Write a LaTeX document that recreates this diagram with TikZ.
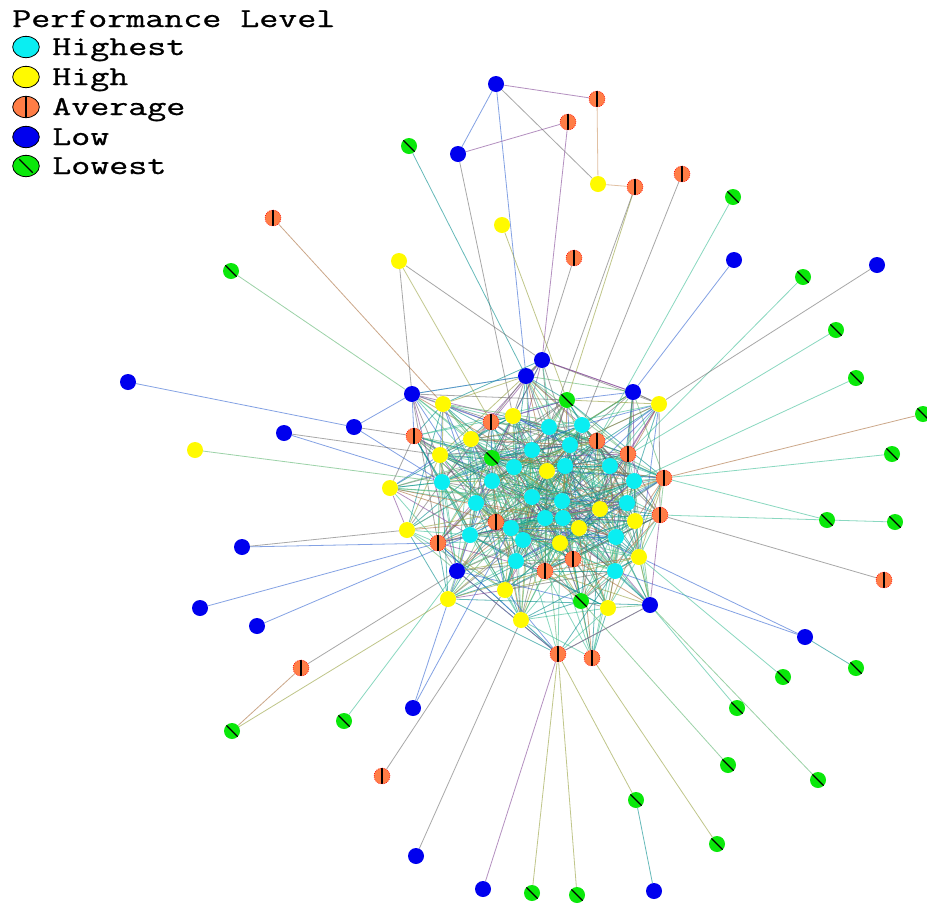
\documentclass[tikz,border=0pt]{standalone}
\usepackage{fontspec}
\newfontfamily\legfont[FakeBold=0.8]{Latin Modern Mono}
\usetikzlibrary{backgrounds,shapes.geometric}
\definecolor{ncyan}{RGB}{10,238,242}
\definecolor{nyellow}{RGB}{255,250,0}
\definecolor{norange}{RGB}{255,125,70}
\definecolor{nblue}{RGB}{0,0,238}
\definecolor{ngreen}{RGB}{10,232,10}
\definecolor{ecTeal}{RGB}{0,140,140}
\definecolor{ecGreen}{RGB}{90,180,110}
\definecolor{ecBlue}{RGB}{50,100,210}
\definecolor{ecGrey}{RGB}{110,110,110}
\definecolor{ecBrown}{RGB}{170,110,60}
\definecolor{ecPurple}{RGB}{130,70,150}
\definecolor{ecOlive}{RGB}{150,160,60}
\definecolor{ecMint}{RGB}{60,190,150}
\definecolor{ecTan}{RGB}{205,150,100}
\pgfmathdeclarerandomlist{ecols}{{ecTeal}{ecGreen}{ecBlue}{ecGrey}{ecBrown}{ecPurple}{ecOlive}{ecMint}{ecTeal}{ecMint}{ecGreen}{ecGrey}{ecTeal}{ecMint}}
\newcommand{\legtxt}[1]{\scalebox{1.35}[1]{\fontsize{20.5}{24}\legfont #1}}
\tikzset{
  nd/.style={circle, inner sep=0pt, minimum size=12pt},
  nhi/.style={nd, fill=ncyan},
  nhg/.style={nd, fill=nyellow},
  nlo/.style={nd, fill=nblue},
  nav/.style={nd, fill=norange, draw=red, densely dotted, line width=0.5pt,
    path picture={\draw[black, solid, line width=0.9pt] (path picture bounding box.north) -- (path picture bounding box.south);}},
  nlw/.style={nd, fill=ngreen,
    path picture={\draw[black, solid, line width=0.9pt] (path picture bounding box.north west) -- (path picture bounding box.south east);}},
  lnk/.style={line width=0.6pt, opacity=0.6},
  leg/.style={ellipse, inner sep=0pt, minimum width=20pt, minimum height=16pt, draw=black, line width=0.6pt},
  legtext/.style={anchor=base west, inner sep=0pt}
}
\def\corelist{L6/542/360/nlo, L7/526/376/nlo, L8/412/394/nlo, L9/633/392/nlo, Y4/443/404/nhg, G8/567/400/nlw, Y6/659/404/nhg, A8/491/422/nav, Y5/513/416/nhg, C1/549/427/nhi, C2/582/425/nhi, A7/414/436/nav, Y14/471/439/nhg, C3/532/450/nhi, C4/570/445/nhi, A15/597/441/nav, A16/628/454/nav, Y15/440/455/nhg, G24/492/458/nlw, C5/514/467/nhi, Y16/547/471/nhg, C6/565/466/nhi, C7/610/466/nhi, C8/442/482/nhi, C9/492/481/nhi, A17/664/478/nav, Y8/390/488/nhg, C10/634/481/nhi, C11/476/503/nhi, C12/532/497/nhi, C13/562/501/nhi, C14/627/503/nhi, Y17/600/509/nhg, A18/660/515/nav, C15/545/518/nhi, C16/563/518/nhi, A19/496/522/nav, Y9/407/530/nhg, C17/470/535/nhi, C18/511/528/nhi, Y18/635/521/nhg, Y19/579/528/nhg, A9/438/543/nav, C19/523/540/nhi, Y20/560/543/nhg, C20/616/537/nhi, Y21/639/557/nhg, A20/573/559/nav, C21/516/561/nhi, A21/545/571/nav, C22/615/571/nhi, L15/457/571/nlo, Y11/505/590/nhg, Y10/448/599/nhg, G12/581/601/nlw, Y13/608/608/nhg, L16/650/605/nlo, Y12/521/620/nhg, A11/558/654/nav, A12/592/658/nav}
\def\perilist{L1/496/84/nlo, A1/597/99/nav, A2/568/122/nav, G1/409/146/nlw, L2/458/154/nlo, Y1/598/184/nhg, A3/635/187/nav, A4/682/174/nav, G2/733/197/nlw, A5/273/218/nav, Y2/502/225/nhg, G3/231/271/nlw, Y3/399/261/nhg, A6/574/258/nav, L3/734/260/nlo, G4/803/277/nlw, L4/877/265/nlo, G5/836/330/nlw, G6/856/378/nlw, G7/923/414/nlw, L5/128/382/nlo, L10/284/433/nlo, L11/354/427/nlo, Y7/195/450/nhg, G9/892/454/nlw, L12/242/547/nlo, G10/827/520/nlw, G11/895/522/nlw, A10/884/580/nav, L13/200/608/nlo, L14/257/626/nlo, L17/805/637/nlo, G13/856/668/nlw, G14/783/677/nlw, A13/301/668/nav, G15/232/731/nlw, G16/344/721/nlw, L18/413/708/nlo, G17/737/708/nlw, A14/382/776/nav, G18/728/765/nlw, G19/818/780/nlw, G20/636/800/nlw, G21/717/844/nlw, L19/416/856/nlo, L20/483/889/nlo, G22/532/893/nlw, G23/577/895/nlw, L21/654/891/nlo}
\begin{document}
\begin{tikzpicture}[x=0.75pt,y=-0.75pt]
\useasboundingbox (0,0) rectangle (927,904);
\pgfmathsetseed{4711}
% nodes
\foreach \n/\x/\y/\s in \corelist {\node[\s] (\n) at (\x,\y) {};}
\foreach \n/\x/\y/\s in \perilist {\node[\s] (\n) at (\x,\y) {};}
% edges
\begin{pgfonlayer}{background}
\fill[white] (0,0) rectangle (927,904);
\foreach \a/\ax/\ay/\as [count=\i] in \corelist {
  \foreach \b/\bx/\by/\bs [count=\j] in \corelist {
    \ifnum\j>\i
      \pgfmathsetmacro\dd{veclen(\bx-\ax,\by-\ay)}
      \pgfmathtruncatemacro\ok{rnd<(1.0-\dd/210)}
      \ifnum\ok=1
        \pgfmathrandomitem{\ec}{ecols}
        \draw[lnk,draw=\ec] (\a) -- (\b);
      \fi
    \fi
  }
}
\foreach \a/\b/\c in {L1/A1/ecPurple, L1/L2/ecBlue, L1/L7/ecBlue, L1/Y1/ecGrey, L2/A2/ecPurple, A1/Y1/ecTan, Y1/A3/ecTan, A2/L6/ecPurple, L2/Y5/ecGrey, G1/L7/ecTeal, Y2/G8/ecOlive, A6/L6/ecGrey, A3/G8/ecOlive, A3/C1/ecGrey, A4/C2/ecGrey, G2/A15/ecMint, L3/L9/ecBlue, G4/A16/ecMint, L4/Y6/ecGrey, G5/C7/ecMint, G6/C10/ecMint, G7/A17/ecBrown, G9/A17/ecMint, G10/A17/ecMint, G11/A18/ecMint, A10/A18/ecGrey, L17/Y21/ecBlue, L17/C22/ecBlue, G13/L17/ecTeal, G14/Y21/ecMint, G17/L16/ecMint, G19/L16/ecGreen, G18/G12/ecGreen, G21/A12/ecOlive, G20/A11/ecOlive, G20/L21/ecTeal, G23/A11/ecOlive, G22/A11/ecOlive, L20/A11/ecPurple, L19/Y12/ecGrey, A14/Y11/ecGrey, L18/C17/ecBlue, L18/C18/ecBlue, G16/L15/ecMint, G15/A13/ecBrown, G15/Y10/ecOlive, A13/L15/ecGrey, L13/A9/ecBlue, L14/C17/ecBlue, L12/Y9/ecGrey, L12/A9/ecBlue, Y7/C8/ecGreen, L5/L11/ecBlue, L11/L8/ecBlue, L11/A7/ecGrey, L11/C8/ecBlue, L10/Y15/ecGrey, L10/C8/ecBlue, G3/L8/ecGreen, A5/Y4/ecBrown, Y3/L8/ecGrey, Y3/L6/ecGrey, Y3/A8/ecOlive, L8/L7/ecBlue, L6/L9/ecPurple, Y6/L9/ecGrey, L16/A18/ecPurple, L16/A11/ecPurple, L15/A11/ecPurple, L8/L15/ecPurple}
  {\draw[lnk,draw=\c] (\a) -- (\b);}
\end{pgfonlayer}
% legend
\node[legtext] (lgT) at (12,27) {\legtxt{Performance Level}};
\node[leg, fill=ncyan] (lgHi) at (26,47) {};
\node[legtext] (lgHiT) at (52,55) {\legtxt{Highest}};
\node[leg, fill=nyellow] (lgHg) at (26,77) {};
\node[legtext] (lgHgT) at (52,85) {\legtxt{High}};
\node[leg, fill=norange, path picture={\draw[black, line width=0.9pt] (path picture bounding box.north) -- (path picture bounding box.south);}] (lgAv) at (26,107) {};
\node[legtext] (lgAvT) at (52,115) {\legtxt{Average}};
\node[leg, fill=nblue] (lgLo) at (26,137) {};
\node[legtext] (lgLoT) at (52,145) {\legtxt{Low}};
\node[leg, fill=ngreen, path picture={\draw[black, line width=0.9pt] ([shift={(-5pt,5pt)}]path picture bounding box.center) -- ([shift={(5pt,-5pt)}]path picture bounding box.center);}] (lgLw) at (26,166) {};
\node[legtext] (lgLwT) at (52,174) {\legtxt{Lowest}};
\end{tikzpicture}
\end{document}
